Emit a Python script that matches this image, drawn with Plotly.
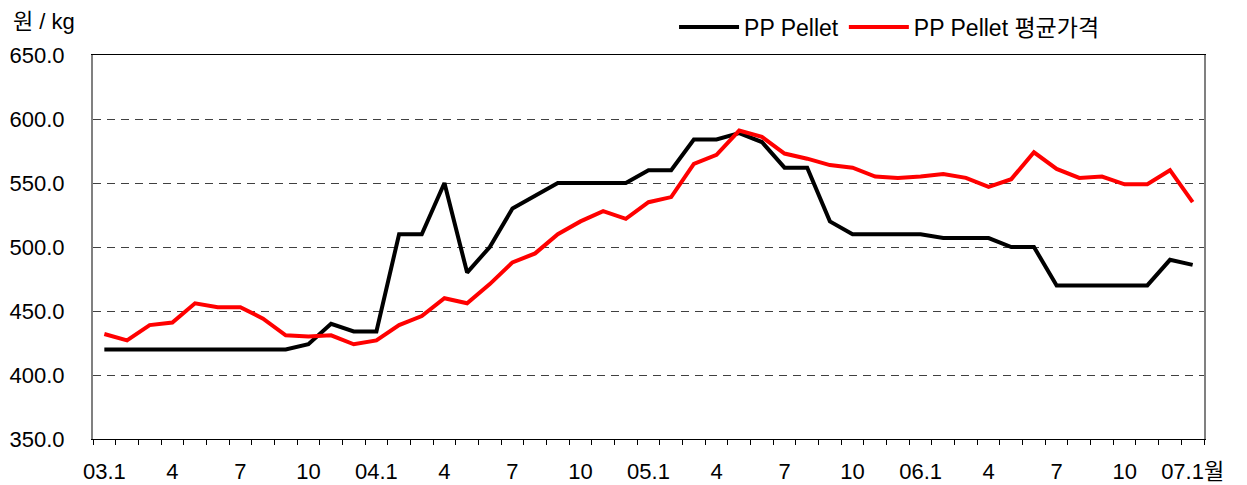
import plotly.graph_objects as go

months = ["03.%d" % m for m in range(1, 13)] + ["04.%d" % m for m in range(1, 13)] + \
         ["05.%d" % m for m in range(1, 13)] + ["06.%d" % m for m in range(1, 13)] + ["07.1"]

pp_pellet = [420, 420, 420, 420, 420, 420, 420, 420, 420, 424,
             440, 434, 434, 510, 510, 550, 480, 500, 530, 540,
             550, 550, 550, 550, 560, 560, 584, 584, 589, 582,
             562, 562, 520, 510, 510, 510, 510, 507, 507, 507,
             500, 500, 470, 470, 470, 470, 470, 490, 486]

pp_pellet_avg = [432, 427, 439, 441, 456, 453, 453, 444, 431, 430,
                 431, 424, 427, 439, 446, 460, 456, 471, 488, 495,
                 510, 520, 528, 522, 535, 539, 565, 572, 591, 586,
                 573, 569, 564, 562, 555, 554, 555, 557, 554, 547,
                 553, 574, 561, 554, 555, 549, 549, 560, 535]

tick_idx = list(range(0, len(months), 3))
tick_text = ["03.1", "4", "7", "10", "04.1", "4", "7", "10", "05.1", "4", "7", "10",
             "06.1", "4", "7", "10", "07.1월"]

x = list(range(len(months)))
font_family = "Arial, Liberation Sans, Noto Sans CJK KR"

fig = go.Figure()
fig.add_trace(go.Scatter(x=x, y=pp_pellet, mode="lines", name="PP Pellet",
                         line=dict(color="black", width=4), customdata=months))
fig.add_trace(go.Scatter(x=x, y=pp_pellet_avg, mode="lines", name="PP Pellet 평균가격",
                         line=dict(color="#FF0000", width=4), customdata=months))

# page body has an 8px margin, so the figure is a bit smaller than the window
fig.update_layout(
    width=1239,
    height=477,
    margin=dict(l=85, r=43, t=47, b=46, autoexpand=False),
    plot_bgcolor="white",
    paper_bgcolor="white",
    font=dict(family=font_family, size=22, color="black"),
    showlegend=True,
    legend=dict(orientation="h", x=0.523, xanchor="left", y=1.073, yanchor="middle",
                font=dict(size=23), bgcolor="rgba(0,0,0,0)", itemwidth=60,
                tracegroupgap=0),
    xaxis=dict(
        range=[-0.5, len(months) - 0.5],
        tickmode="array",
        tickvals=tick_idx,
        ticktext=tick_text,
        ticks="outside",
        ticklen=13,
        tickcolor="rgba(0,0,0,0)",
        showgrid=False,
        zeroline=False,
        showline=True,
        linecolor="black",
        linewidth=1,
        mirror=True,
        automargin=False,
        minor=dict(tick0=-0.5, dtick=1, ticks="outside", ticklen=5,
                   tickcolor="black", tickwidth=1, showgrid=False),
    ),
    yaxis=dict(
        range=[350, 650],
        dtick=50,
        tickformat=".1f",
        showgrid=True,
        gridcolor="#404040",
        gridwidth=1,
        griddash="8px,6px",
        zeroline=False,
        showline=True,
        linecolor="#808080",
        linewidth=2,
        mirror=True,
        ticks="",
        ticklabelstandoff=22,
        automargin=False,
    ),
    annotations=[dict(text="원 / kg", xref="paper", yref="paper", x=-0.074, y=1.088,
                      xanchor="left", yanchor="middle", showarrow=False,
                      font=dict(size=22))],
)

fig.write_html("out.html")
